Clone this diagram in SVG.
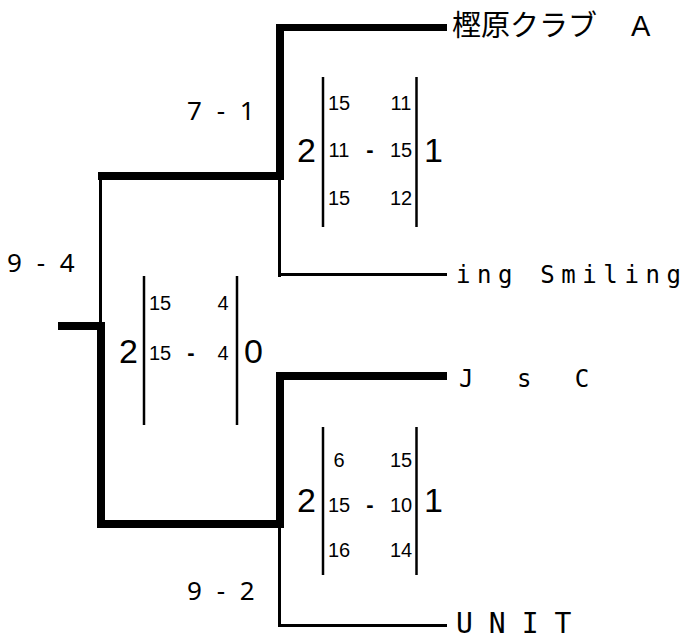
<svg xmlns="http://www.w3.org/2000/svg" width="692" height="639" viewBox="0 0 692 639">
<style>
.thick{fill:#000}
.bar{stroke:#000;stroke-width:2.5}
.big{font-family:"Liberation Sans",Arial,sans-serif;font-size:34px;fill:#000}
.sm{font-family:"Liberation Sans",Arial,sans-serif;font-size:20px;fill:#000;text-anchor:middle}
.dash{font-family:"Liberation Sans",Arial,sans-serif;font-size:22px;font-weight:bold;fill:#000;text-anchor:middle}
.res{font-family:"Noto Sans","DejaVu Sans",sans-serif;font-size:26px;fill:#000;letter-spacing:4px}
.team{font-family:"DejaVu Sans Mono","Noto Sans CJK JP",monospace;fill:#000}
</style>
<rect width="692" height="639" fill="#fff"/>
<g id="connectors">
<rect class="thick" x="58" y="322" width="47" height="8"/>
<rect class="thick" x="98" y="172" width="186" height="8"/>
<rect class="thick" x="99" y="176" width="3" height="150"/>
<rect class="thick" x="97" y="322" width="8" height="206"/>
<rect class="thick" x="97" y="520" width="187" height="8"/>
<rect class="thick" x="276" y="24" width="8" height="156"/>
<rect class="thick" x="276" y="24" width="171" height="7"/>
<rect class="thick" x="278" y="180" width="3" height="97"/>
<rect class="thick" x="278" y="273" width="169" height="3"/>
<rect class="thick" x="276" y="372" width="171" height="8"/>
<rect class="thick" x="276" y="372" width="8" height="156"/>
<rect class="thick" x="278" y="528" width="3" height="99"/>
<rect class="thick" x="278" y="624" width="169" height="3"/>
</g>
<g id="team-kashihara">
<text class="team" x="452" y="36" font-size="29">樫原クラブ<tspan x="631" font-size="29" font-family="Liberation Sans, sans-serif">A</tspan></text>
</g>
<g id="team-smiling">
<text class="team" x="456" y="283" font-size="24" letter-spacing="6.6">ing Smiling</text>
</g>
<g id="team-jsc">
<text class="team" x="459" y="387" font-size="24" letter-spacing="14.5">J s C</text>
</g>
<g id="team-unit">
<text class="team" x="456" y="633" font-size="28" letter-spacing="16">UNIT</text>
</g>
<g id="result-final">
<text class="res" x="7" y="272">9 - 4</text>
</g>
<g id="result-semi1">
<text class="res" x="187" y="120">7 - 1</text>
</g>
<g id="result-semi2">
<text class="res" x="187" y="600">9 - 2</text>
</g>
<g id="score-semi1">
<line class="bar" x1="323" y1="77" x2="323" y2="227"/>
<line class="bar" x1="416.5" y1="77" x2="416.5" y2="227"/>
<text class="big" x="316" y="162" text-anchor="end">2</text>
<text class="big" x="424" y="162">1</text>
<text class="sm" x="339" y="110">15</text><text class="sm" x="401" y="110">11</text>
<text class="sm" x="339" y="157">11</text><text class="dash" x="370" y="157">-</text><text class="sm" x="401" y="157">15</text>
<text class="sm" x="339" y="205">15</text><text class="sm" x="401" y="205">12</text>
</g>
<g id="score-final">
<line class="bar" x1="144" y1="276" x2="144" y2="425"/>
<line class="bar" x1="237" y1="276" x2="237" y2="425"/>
<text class="big" x="138" y="363" text-anchor="end">2</text>
<text class="big" x="244" y="363">0</text>
<text class="sm" x="160" y="310">15</text><text class="sm" x="223" y="310">4</text>
<text class="sm" x="160" y="360">15</text><text class="dash" x="191" y="360">-</text><text class="sm" x="223" y="360">4</text>
</g>
<g id="score-semi2">
<line class="bar" x1="323" y1="427" x2="323" y2="575"/>
<line class="bar" x1="416.5" y1="427" x2="416.5" y2="575"/>
<text class="big" x="316" y="512" text-anchor="end">2</text>
<text class="big" x="424" y="512">1</text>
<text class="sm" x="339" y="467">6</text><text class="sm" x="401" y="467">15</text>
<text class="sm" x="339" y="512">15</text><text class="dash" x="370" y="512">-</text><text class="sm" x="401" y="512">10</text>
<text class="sm" x="339" y="557">16</text><text class="sm" x="401" y="557">14</text>
</g>
</svg>
